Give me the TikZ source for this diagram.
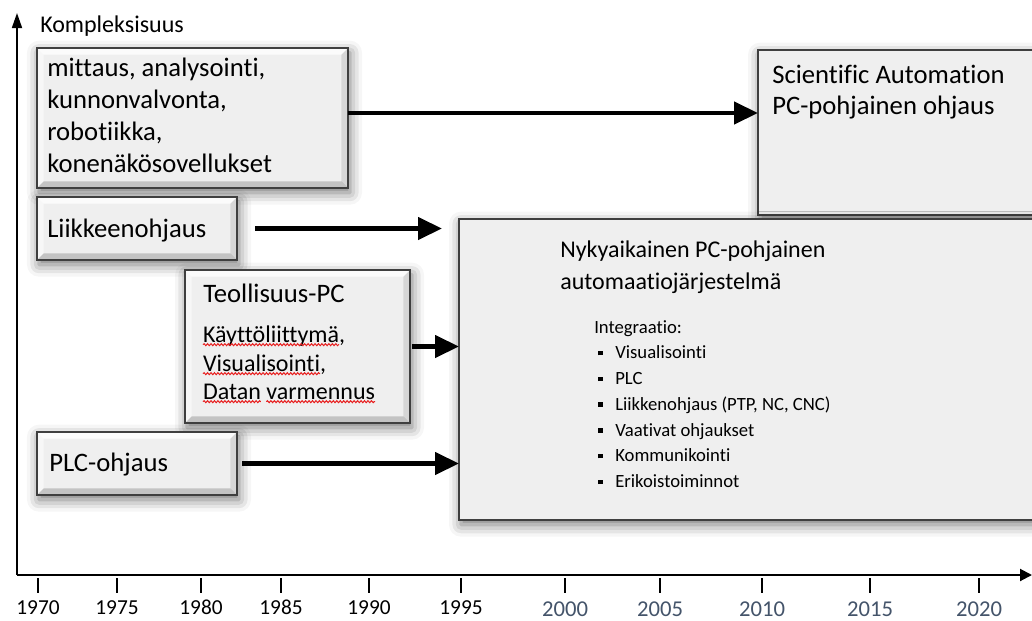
\documentclass[tikz,border=0pt]{standalone}
\usepackage{fontspec}
\setmainfont{Carlito}[Ligatures={NoCommon,NoRare}]
\usetikzlibrary{arrows.meta,shadows.blur,decorations.pathmorphing}

\definecolor{boxfill}{HTML}{EFEFEF}
\definecolor{boxline}{HTML}{3F3F3F}
\definecolor{yearblue}{HTML}{44546A}
\definecolor{spellred}{HTML}{E81E1E}

% small square list bullet
\newcommand\sqbullet{\rule[2.6pt]{3.4pt}{3.4pt}\hspace{9.4pt}}

\begin{document}
\begin{tikzpicture}[x=0.75pt,y=-0.75pt,
  panel/.style={draw=boxline, line width=1.2pt, fill=boxfill, anchor=north west,
    inner sep=0pt, outer sep=0pt,
    blur shadow={shadow xshift=1.5pt, shadow yshift=-3.5pt, shadow blur radius=9pt, shadow opacity=55}},
  bevel/.style={path picture={
    \fill[white,opacity=.8] (path picture bounding box.north west) -- (path picture bounding box.north east)
      -- ([shift={(-5pt,-5pt)}]path picture bounding box.north east)
      -- ([shift={(5pt,-5pt)}]path picture bounding box.north west) -- cycle;
    \fill[white,opacity=.5] (path picture bounding box.north west)
      -- ([shift={(5pt,-5pt)}]path picture bounding box.north west)
      -- ([shift={(5pt,5pt)}]path picture bounding box.south west)
      -- (path picture bounding box.south west) -- cycle;
    \fill[black,opacity=.18] (path picture bounding box.south west)
      -- ([shift={(5pt,5pt)}]path picture bounding box.south west)
      -- ([shift={(-5pt,5pt)}]path picture bounding box.south east)
      -- (path picture bounding box.south east) -- cycle;
    \fill[black,opacity=.1] (path picture bounding box.south east)
      -- ([shift={(-5pt,5pt)}]path picture bounding box.south east)
      -- ([shift={(-5pt,-5pt)}]path picture bounding box.north east)
      -- (path picture bounding box.north east) -- cycle;
  }},
  big/.style={anchor=base west, inner sep=0pt, font=\fontsize{20}{24}\selectfont},
  mid/.style={anchor=base west, inner sep=0pt, font=\fontsize{18}{22}\selectfont},
  word/.style={anchor=base west, inner sep=0pt, outer sep=0pt, font=\fontsize{18}{22}\selectfont},
  small/.style={anchor=base west, inner sep=0pt, font=\fontsize{14}{17}\selectfont},
  conn/.style={line width=3.2pt, -{Triangle[length=18pt,width=16.5pt]}},
  axis/.style={line width=1.3pt},
  tickmark/.style={line width=1.1pt},
  year/.style={anchor=base, inner sep=0pt, font=\fontsize{16}{19}\selectfont},
  newyear/.style={anchor=base, inner sep=0pt, text=yearblue, font=\fontsize{17}{20}\selectfont},
  spell/.style={draw=spellred, line width=0.75pt, decorate,
    decoration={snake, amplitude=0.75pt, segment length=2.6pt}}
]
\useasboundingbox (0,0) rectangle (1032,621);
\clip (0,0) rectangle (1032,621);

% axes
\coordinate (origin) at (17,575);
\coordinate (ytop) at (17,13);
\coordinate (xend) at (1032,575);
\draw[axis, -{Triangle[length=11.25pt,width=7.5pt]}] (origin) -- (ytop);
\draw[axis, line width=1.5pt, -{Triangle[length=9pt,width=9pt]}] (origin) -- (xend);
\node[anchor=base west, inner sep=0pt, font=\fontsize{18}{22}\selectfont] (ylabel) at (40,32) {Kompleksisuus};

% time scale
\foreach \x/\yr in {38/1970,117/1975,201/1980,281/1985,369/1990,461/1995}{
  \draw[tickmark] (\x,578) -- (\x,593);
  \node[year] (y\yr) at (\x,614) {\yr};
}
\foreach \x/\yr in {565/2000,660/2005,762/2010,870/2015,979/2020}{
  \draw[tickmark] (\x,578) -- (\x,593);
  \node[newyear] (y\yr) at (\x,616) {\yr};
}

% boxes
\node[panel, bevel, minimum width=233.25pt, minimum height=105pt] (A) at (37,48) {};
\node[panel, bevel, minimum width=150pt, minimum height=47.25pt] (B) at (37,197) {};
\node[panel, bevel, minimum width=168.75pt, minimum height=114.75pt] (C) at (185,270) {};
\node[panel, bevel, minimum width=150pt, minimum height=47.25pt] (E) at (37,432) {};
\node[panel, minimum width=217.5pt, minimum height=123.75pt] (F) at (758,50) {};
\node[panel, minimum width=439.5pt, minimum height=225.75pt] (D) at (459,219) {};

% box texts
\node[big] (a1) at (47,76) {mittaus, analysointi,};
\node[big] (a2) at (47,108) {kunnonvalvonta,};
\node[big] (a3) at (47,140) {robotiikka,};
\node[big] (a4) at (47,172) {konenäkösovellukset};

\node[big] (b1) at (47,237) {Liikkeenohjaus};

\node[big] (c1) at (203,302) {Teollisuus-PC};
% flagged words set as separate pieces so that they can be underlined
\node[word] (w1) at (203,342) {Käyttöliittymä};
\node[word] (w1c) at (w1.base east) {,};
\node[word] (w2) at (203,371) {Visualisointi};
\node[word] (w2c) at (w2.base east) {,};
\node[word] (w3) at (203,399) {Datan};
\node[word] (w4) at ([xshift=4.1pt]w3.base east) {varmennus};

\node[big] (e1) at (49,471) {PLC-ohjaus};

\node[big] (f1) at (772,83) {Scientific Automation};
\node[big] (f2) at (772,114) {PC-pohjainen ohjaus};

\node[mid] (d1) at (560,257) {Nykyaikainen PC-pohjainen};
\node[mid] (d2) at (560,289) {automaatiojärjestelmä};
\node[small] (d3) at (594,333) {Integraatio:};
\node[small] (i1) at (598,358.75) {\sqbullet Visualisointi};
\node[small] (i2) at (598,384.5) {\sqbullet PLC};
\node[small] (i3) at (598,410.25) {\sqbullet Liikkenohjaus (PTP, NC, CNC)};
\node[small] (i4) at (598,436) {\sqbullet Vaativat ohjaukset};
\node[small] (i5) at (598,461.75) {\sqbullet Kommunikointi};
\node[small] (i6) at (598,487.5) {\sqbullet Erikoistoiminnot};

% wavy spelling marks under the flagged words
\foreach \w in {w1,w2,w3,w4}
  \draw[spell] ([yshift=-2pt]\w.base west) -- ([yshift=-2pt]\w.base east);

% connectors
\coordinate (aout) at ([yshift=3.75pt]A.east);
\draw[conn] (aout) -- (aout -| F.west);
\draw[conn, shorten <=13.5pt, shorten >=12.75pt] (B.east) -- (B.east -| D.west);
\draw[conn, shorten <=1.5pt] (C.east) -- (C.east -| D.west);
\draw[conn, shorten <=3.75pt] (E.east) -- (E.east -| D.west);
\end{tikzpicture}
\end{document}
